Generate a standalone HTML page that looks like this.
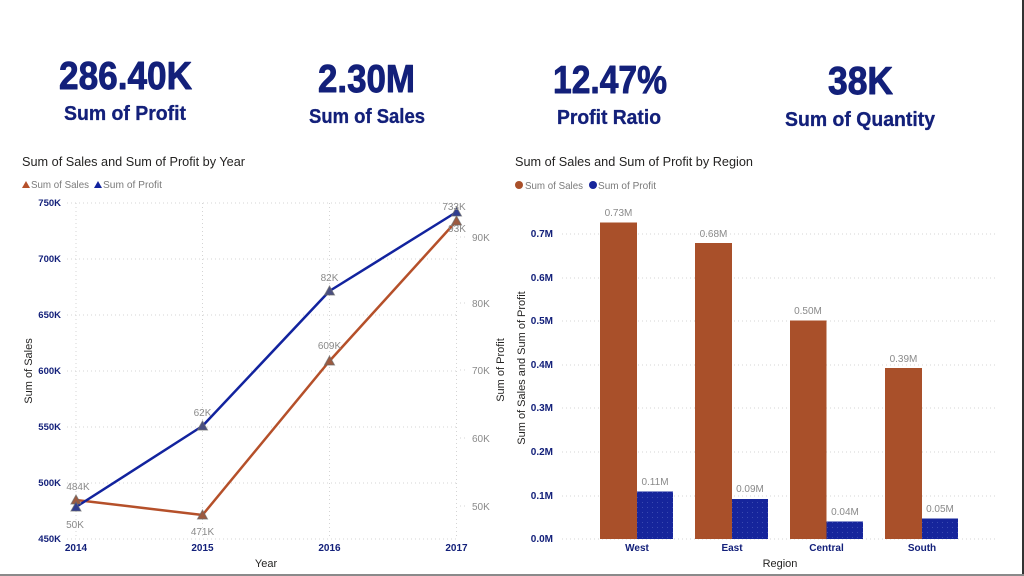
<!DOCTYPE html>
<html><head><meta charset="utf-8"><style>
html,body{margin:0;padding:0;background:#fff;}
svg{display:block;}
text{font-family:"Liberation Sans",sans-serif;}
</style></head><body>
<svg width="1024" height="576" viewBox="0 0 1024 576" xmlns="http://www.w3.org/2000/svg">
<defs>
<pattern id="dots" width="5" height="5" patternUnits="userSpaceOnUse">
<rect width="5" height="5" fill="#16259b"/>
<rect x="2" y="2" width="1" height="1" fill="#3a4ab0"/>
</pattern>
</defs>
<rect width="1024" height="576" fill="#fff"/>
<rect x="1022" y="0" width="2" height="576" fill="#333"/>
<rect x="0" y="574" width="1024" height="2" fill="#8a8a8a"/>

<!-- KPIs -->
<g fill="#13207a" font-weight="bold" stroke="#13207a" stroke-width="0.9" stroke-linejoin="round">
<text x="59" y="89" font-size="39" textLength="133" lengthAdjust="spacingAndGlyphs">286.40K</text>
<text x="318" y="92" font-size="39" textLength="97" lengthAdjust="spacingAndGlyphs">2.30M</text>
<text x="553" y="93" font-size="39" textLength="114" lengthAdjust="spacingAndGlyphs">12.47%</text>
<text x="828" y="94" font-size="39" textLength="65" lengthAdjust="spacingAndGlyphs">38K</text>
</g>
<g fill="#13207a" font-weight="bold" stroke="#13207a" stroke-width="0.3">
<text x="64" y="120" font-size="20" textLength="122" lengthAdjust="spacingAndGlyphs">Sum of Profit</text>
<text x="309" y="123" font-size="20" textLength="116" lengthAdjust="spacingAndGlyphs">Sum of Sales</text>
<text x="557" y="124" font-size="20" textLength="104" lengthAdjust="spacingAndGlyphs">Profit Ratio</text>
<text x="785" y="126" font-size="20" textLength="150" lengthAdjust="spacingAndGlyphs">Sum of Quantity</text>
</g>

<!-- LINE CHART -->
<text x="22" y="166" font-size="13" fill="#252423" textLength="223" lengthAdjust="spacingAndGlyphs">Sum of Sales and Sum of Profit by Year</text>
<polygon points="22,188 26,181 30,188" fill="#b5502a"/>
<text x="31" y="188" font-size="10.5" fill="#7a7a7a" textLength="58" lengthAdjust="spacingAndGlyphs">Sum of Sales</text>
<polygon points="94,188 98,181 102,188" fill="#12239e"/>
<text x="103" y="188" font-size="10.5" fill="#7a7a7a" textLength="59" lengthAdjust="spacingAndGlyphs">Sum of Profit</text>

<g stroke="#d4d4d4" stroke-width="1" stroke-dasharray="1,3" fill="none">
<line x1="67" y1="203" x2="457" y2="203"/>
<line x1="67" y1="259" x2="457" y2="259"/>
<line x1="67" y1="315" x2="457" y2="315"/>
<line x1="67" y1="371" x2="457" y2="371"/>
<line x1="67" y1="427" x2="457" y2="427"/>
<line x1="67" y1="483" x2="457" y2="483"/>
<line x1="67" y1="539" x2="457" y2="539"/>
<line x1="76" y1="203" x2="76" y2="539"/>
<line x1="202.5" y1="203" x2="202.5" y2="539"/>
<line x1="329.5" y1="203" x2="329.5" y2="539"/>
<line x1="456.5" y1="203" x2="456.5" y2="539"/>
<line x1="460" y1="237" x2="467" y2="237"/>
<line x1="460" y1="303" x2="467" y2="303"/>
<line x1="460" y1="370" x2="467" y2="370"/>
<line x1="460" y1="438" x2="467" y2="438"/>
<line x1="460" y1="506" x2="467" y2="506"/>
</g>

<g font-size="9.5" font-weight="bold" fill="#13207a" text-anchor="end">
<text x="61" y="206">750K</text>
<text x="61" y="262">700K</text>
<text x="61" y="318">650K</text>
<text x="61" y="374">600K</text>
<text x="61" y="430">550K</text>
<text x="61" y="486">500K</text>
<text x="61" y="542">450K</text>
</g>
<g font-size="10" font-weight="bold" fill="#13207a" text-anchor="middle">
<text x="76" y="551">2014</text>
<text x="202.5" y="551">2015</text>
<text x="329.5" y="551">2016</text>
<text x="456.5" y="551">2017</text>
</g>
<g font-size="10" fill="#8a8a8a">
<text x="472" y="241">90K</text>
<text x="472" y="307">80K</text>
<text x="472" y="374">70K</text>
<text x="472" y="442">60K</text>
<text x="472" y="510">50K</text>
</g>
<text x="266" y="567" font-size="11" fill="#252423" text-anchor="middle">Year</text>
<text transform="translate(32,371) rotate(-90)" font-size="11" fill="#252423" text-anchor="middle">Sum of Sales</text>
<text transform="translate(504,370) rotate(-90)" font-size="11" fill="#252423" text-anchor="middle">Sum of Profit</text>

<polyline points="76,500 202.5,515 329.5,361 456.5,221" fill="none" stroke="#b5502a" stroke-width="2.5" stroke-linejoin="round"/>
<polyline points="76,507 202.5,426 329.5,291 456.5,212" fill="none" stroke="#12239e" stroke-width="2.5" stroke-linejoin="round"/>
<g stroke="#6a6a6a" stroke-width="1" stroke-opacity="0.7">
<polygon points="71,504 76,495 81,504" fill="#9c5a40"/>
<polygon points="197.5,519 202.5,510 207.5,519" fill="#9c5a40"/>
<polygon points="324.5,365 329.5,356 334.5,365" fill="#9c5a40"/>
<polygon points="451.5,225 456.5,216 461.5,225" fill="#9c5a40"/>
<polygon points="71,511 76,502 81,511" fill="#303d90"/>
<polygon points="197.5,430 202.5,421 207.5,430" fill="#4a4f80"/>
<polygon points="324.5,295 329.5,286 334.5,295" fill="#4a4f80"/>
<polygon points="451.5,216 456.5,207 461.5,216" fill="#303d90"/>
</g>
<g font-size="10" fill="#8a8a8a" text-anchor="middle">
<text x="78" y="490">484K</text>
<text x="75" y="528">50K</text>
<text x="202.5" y="416">62K</text>
<text x="202.5" y="535">471K</text>
<text x="329.5" y="281">82K</text>
<text x="329.5" y="349">609K</text>
<text x="454" y="210">733K</text>
<text x="457" y="232">93K</text>
</g>

<!-- BAR CHART -->
<text x="515" y="166" font-size="13" fill="#252423" textLength="238" lengthAdjust="spacingAndGlyphs">Sum of Sales and Sum of Profit by Region</text>
<circle cx="519" cy="185" r="4" fill="#a9502a"/>
<text x="525" y="189" font-size="10.5" fill="#7a7a7a" textLength="58" lengthAdjust="spacingAndGlyphs">Sum of Sales</text>
<circle cx="593" cy="185" r="4" fill="#16259b"/>
<text x="598" y="189" font-size="10.5" fill="#7a7a7a" textLength="58" lengthAdjust="spacingAndGlyphs">Sum of Profit</text>

<g stroke="#d4d4d4" stroke-width="1" stroke-dasharray="1,3">
<line x1="562" y1="234" x2="998" y2="234"/>
<line x1="562" y1="278" x2="998" y2="278"/>
<line x1="562" y1="321" x2="998" y2="321"/>
<line x1="562" y1="365" x2="998" y2="365"/>
<line x1="562" y1="408" x2="998" y2="408"/>
<line x1="562" y1="452" x2="998" y2="452"/>
<line x1="562" y1="496" x2="998" y2="496"/>
<line x1="562" y1="539" x2="998" y2="539"/>
</g>
<g font-size="10" font-weight="bold" fill="#13207a" text-anchor="end">
<text x="553" y="237">0.7M</text>
<text x="553" y="281">0.6M</text>
<text x="553" y="324">0.5M</text>
<text x="553" y="368">0.4M</text>
<text x="553" y="411">0.3M</text>
<text x="553" y="455">0.2M</text>
<text x="553" y="499">0.1M</text>
<text x="553" y="542">0.0M</text>
</g>
<text transform="translate(525,368) rotate(-90)" font-size="11" fill="#252423" text-anchor="middle">Sum of Sales and Sum of Profit</text>

<g fill="#a9502a">
<rect x="600" y="222.5" width="37" height="316.5"/>
<rect x="695" y="243" width="37" height="296"/>
<rect x="790" y="320.5" width="36.5" height="218.5"/>
<rect x="885" y="368" width="37" height="171"/>
</g>
<g fill="url(#dots)">
<rect x="637" y="491.5" width="36" height="47.5"/>
<rect x="732" y="499" width="36" height="40"/>
<rect x="826.5" y="521.5" width="36.5" height="17.5"/>
<rect x="922" y="518.5" width="36" height="20.5"/>
</g>
<g font-size="10" fill="#8a8a8a" text-anchor="middle">
<text x="618.5" y="216">0.73M</text>
<text x="713.5" y="237">0.68M</text>
<text x="808" y="314">0.50M</text>
<text x="903.5" y="362">0.39M</text>
<text x="655" y="485">0.11M</text>
<text x="750" y="492">0.09M</text>
<text x="845" y="515">0.04M</text>
<text x="940" y="512">0.05M</text>
</g>
<g font-size="10" font-weight="bold" fill="#13207a" text-anchor="middle">
<text x="637" y="551">West</text>
<text x="732" y="551">East</text>
<text x="826.5" y="551">Central</text>
<text x="922" y="551">South</text>
</g>
<text x="780" y="567" font-size="11" fill="#252423" text-anchor="middle">Region</text>
</svg>
</body></html>
